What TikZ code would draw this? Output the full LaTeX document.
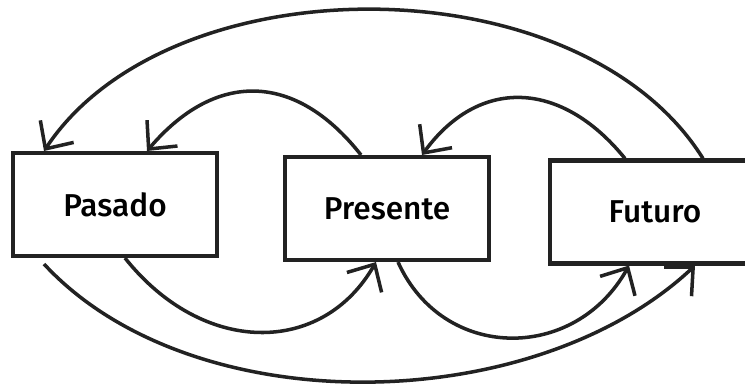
\documentclass[tikz,border=0pt]{standalone}
\usepackage{fontspec}
\setmainfont{Fira Sans}[UprightFont=* Medium]
\usetikzlibrary{arrows.meta,calc}
\definecolor{trazo}{HTML}{222222}
\begin{document}
\begin{tikzpicture}[x=0.02cm,y=-0.02cm,
  every node/.style={rectangle,draw=trazo,line width=2.3pt,minimum height=2.06cm,
    font=\fontsize{18}{20}\selectfont},
  flecha/.style={draw=trazo,line width=2pt,
    -{Straight Barb[length=0.42cm,width=0.8cm,line width=2pt]}}]
  \useasboundingbox (0,0) rectangle (745,383);

  % Cajas
  \node[minimum width=4.08cm] (pas) at (115,204.5) {Pasado};
  \node[minimum width=4.08cm] (pre) at (387,208.5) {Presente};
  \node[minimum width=4.2cm] (fut) at (655,212) {Futuro};

  % Flechas de arriba
  \draw[flecha] ($(fut.north)+(48,0)$) .. controls +(-123,-197) and +(126,-190) .. ($(pas.north)+(-71,0)$);
  \draw[flecha] ($(pre.north)+(-26,0)$) .. controls +(-66,-84) and +(68,-80) .. ($(pas.north)+(32,0)$);
  \draw[flecha] ($(fut.north)+(-30,0)$) .. controls +(-65,-80) and +(56,-77) .. ($(pre.north)+(35,0)$);

  % Flechas de abajo
  \draw[flecha] ($(pas.south)+(10,0)$) .. controls +(78,98) and +(-54,94) .. ($(pre.south)+(-11,0)$);
  \draw[flecha] ($(pre.south)+(11,0)$) .. controls +(45,100) and +(-54,97) .. ($(fut.south)+(-26,0)$);
  \draw[flecha] ($(pas.south)+(-71,6)$) .. controls +(148,160) and +(-162,152) .. ($(fut.south)+(40,0)$);
\end{tikzpicture}
\end{document}
